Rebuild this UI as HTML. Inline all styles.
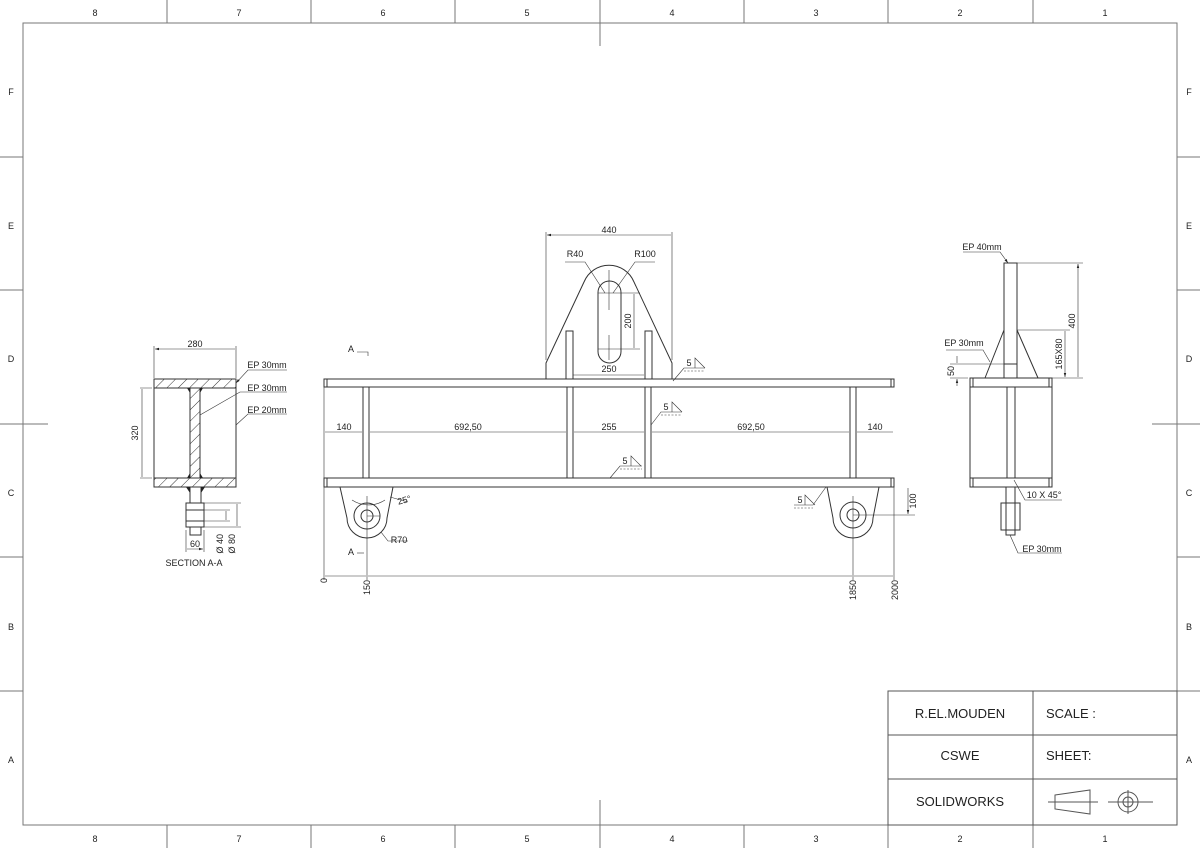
<!DOCTYPE html>
<html><head><meta charset="utf-8"><style>
html,body{margin:0;padding:0;background:#fff}
svg{display:block}
text{font-family:"Liberation Sans",sans-serif;fill:#222}
</style></head><body>
<svg width="1200" height="848" viewBox="0 0 1200 848" xmlns="http://www.w3.org/2000/svg">
<defs>
<marker id="a" viewBox="0 0 10 10" refX="10" refY="5" markerWidth="7" markerHeight="7" orient="auto-start-reverse"><path d="M0,2 L10,5 L0,8z" fill="#222"/></marker>
<pattern id="h" width="8" height="8" patternUnits="userSpaceOnUse" patternTransform="rotate(45)"><line x1="0" y1="0" x2="0" y2="8" stroke="#333" stroke-width="1"/></pattern>
</defs>
<g stroke="#777" stroke-width="1" fill="none">
<rect x="23" y="23" width="1154" height="802"/>
<path d="M167,0V23M311,0V23M455,0V23M744,0V23M888,0V23M1033,0V23M600,0V46
M167,825V848M311,825V848M455,825V848M744,825V848M888,825V848M1033,825V848M600,800V848
M0,157H23M0,290H23M0,557H23M0,691H23M0,424H48
M1177,157H1200M1177,290H1200M1177,557H1200M1177,691H1200M1152,424H1200"/>
</g>
<g font-size="9" text-anchor="middle">
<text x="95" y="16">8</text><text x="239" y="16">7</text><text x="383" y="16">6</text><text x="527" y="16">5</text><text x="672" y="16">4</text><text x="816" y="16">3</text><text x="960" y="16">2</text><text x="1105" y="16">1</text>
<text x="95" y="842">8</text><text x="239" y="842">7</text><text x="383" y="842">6</text><text x="527" y="842">5</text><text x="672" y="842">4</text><text x="816" y="842">3</text><text x="960" y="842">2</text><text x="1105" y="842">1</text>
<text x="11" y="95">F</text><text x="11" y="229">E</text><text x="11" y="362">D</text><text x="11" y="496">C</text><text x="11" y="630">B</text><text x="11" y="763">A</text>
<text x="1189" y="95">F</text><text x="1189" y="229">E</text><text x="1189" y="362">D</text><text x="1189" y="496">C</text><text x="1189" y="630">B</text><text x="1189" y="763">A</text>
</g>
<!-- title block -->
<g stroke="#555" fill="none"><rect x="888" y="691" width="289" height="134"/><path d="M888,735H1177M888,779H1177M1033,691V825"/>
<path d="M1048,802H1098M1055,795L1090,790V814L1055,809Z"/><circle cx="1128" cy="802" r="10"/><circle cx="1128" cy="802" r="5"/><path d="M1108,802H1153M1128,790V814"/></g>
<g font-size="13"><text x="960" y="718" text-anchor="middle">R.EL.MOUDEN</text><text x="1046" y="718">SCALE :</text>
<text x="960" y="760" text-anchor="middle">CSWE</text><text x="1046" y="760">SHEET:</text>
<text x="960" y="806" text-anchor="middle">SOLIDWORKS</text></g>

<!-- main view -->
<g stroke="#333" stroke-width="1" fill="none">
<rect x="324" y="379" width="570" height="8"/><rect x="324" y="478" width="570" height="9"/>
<path d="M327,379V387M891,379V387M327,478V487M891,478V487"/>
<rect x="363" y="387" width="6" height="91"/><rect x="567" y="387" width="6" height="91"/><rect x="645" y="387" width="6" height="91"/><rect x="850" y="387" width="6" height="91"/>
<path d="M546,379V363L584,282A27,27 0 0 1 634,282L672,363V379"/>
<rect x="598" y="281" width="23" height="82" rx="11.5"/>
<path d="M598,293H621M598,349H621" stroke-width="0.6"/>
<rect x="566" y="331" width="7" height="48" fill="#fff"/><rect x="645" y="331" width="7" height="48" fill="#fff"/>
<path d="M340,487L347,518A20,20 0 0 0 387,518L393,487"/>
<circle cx="367" cy="516" r="13"/><circle cx="367" cy="516" r="6"/>
<path d="M827,487L833,518A20,20 0 0 0 873,518L879,487"/>
<circle cx="853" cy="515" r="13"/><circle cx="853" cy="515" r="6"/>
</g>
<g stroke="#333" stroke-width="0.6" fill="none">
<path d="M609,270V310M609,335V360M367,496V580M853,496V580M367,516H380M853,515H915M324,387V580M894,487V580M546,232V360M672,232V360M621,293H640M621,349H640"/>
<path d="M547,235H671M573,375H644M634,294V348M325,432H362M370,432H566M574,432H644M652,432H849M857,432H893M325,576H366M368,576H852M854,576H893M908,488V514" marker-end="url(#a)" marker-start="url(#a)"/>
<path d="M565,262H585L605,293M655,262H635L613,293M352,500A30,30 0 0 0 385,500M390,497L408,502M381,532L388,541H408" />
<path d="M673,381L684,368H705M651,425L661,412H682M610,478L620,466H642M826,487L813,505H794"/>
<path d="M695,368V358L705,368M672,412V402L682,412M631,466V456L641,466M805,505V495L815,505"/>
<path d="M684,371H705M661,415H682M620,469H642M794,508H813" stroke-dasharray="2,1.5"/>
<path d="M357,352H368V356"/><path d="M357,553H364"/>
</g>
<g font-size="9" text-anchor="middle">
<text x="609" y="233">440</text><text x="575" y="257">R40</text><text x="645" y="257">R100</text>
<text x="609" y="372">250</text><text transform="translate(631,321) rotate(-90)">200</text>
<text x="344" y="430">140</text><text x="468" y="430">692,50</text><text x="609" y="430">255</text><text x="751" y="430">692,50</text><text x="875" y="430">140</text>
<text x="689" y="366">5</text><text x="666" y="410">5</text><text x="625" y="464">5</text><text x="800" y="503">5</text>
<text x="405" y="503" transform="rotate(-15,405,503)">25°</text><text x="399" y="543">R70</text>
<text x="351" y="352">A</text><text x="351" y="555">A</text>
<text transform="translate(916,501) rotate(-90)">100</text>
<text transform="translate(327,578) rotate(-90)" text-anchor="end">0</text>
<text transform="translate(370,580) rotate(-90)" text-anchor="end">150</text>
<text transform="translate(856,580) rotate(-90)" text-anchor="end">1850</text>
<text transform="translate(898,580) rotate(-90)" text-anchor="end">2000</text>
</g>

<!-- section A-A -->
<g stroke="#333" stroke-width="1">
<rect x="154" y="379" width="82" height="9" fill="url(#h)"/><rect x="154" y="478" width="82" height="9" fill="url(#h)"/>
<rect x="190" y="388" width="10" height="90" fill="url(#h)"/>
<rect x="154" y="388" width="82" height="90" fill="none"/>
<path d="M190,487V503M201,487V503M191,535H200" fill="none"/>
<rect x="186" y="503" width="18" height="24" fill="none"/><rect x="190" y="527" width="11" height="8" fill="none"/>
<path d="M186,510H204M186,521H204" fill="none"/>
<path d="M187,388l3,5v-5zM203,388l-3,5v-5zM187,478l3,-5v5zM203,478l-3,-5v5zM190,487l-4,0l4,6zM201,487l4,0l-4,6z" fill="#222" stroke="none"/>
</g>
<g stroke="#333" stroke-width="0.6" fill="none">
<path d="M154,346V378M236,346V378M140,388H152M140,478H152M204,510H230M204,521H230M204,503H241M204,527H241M186,530V552M204,530V552"/>
<path d="M155,349H235M142,389V477M226,511V520M237,504V526M187,549H203" marker-end="url(#a)" marker-start="url(#a)"/>
<path d="M236,383L248,370H287M200,415L240,392H287M236,425L248,414H287" marker-start="url(#a)"/>
</g>
<g font-size="9" text-anchor="middle">
<text x="195" y="347">280</text><text transform="translate(138,433) rotate(-90)">320</text>
<text x="267" y="368">EP 30mm</text><text x="267" y="391">EP 30mm</text><text x="267" y="413">EP 20mm</text>
<text x="195" y="547">60</text><text transform="translate(223,534) rotate(-90)" text-anchor="end">Ø 40</text><text transform="translate(235,534) rotate(-90)" text-anchor="end">Ø 80</text>
<text x="194" y="566">SECTION A-A</text>
</g>

<!-- right view -->
<g stroke="#333" stroke-width="1" fill="none">
<rect x="970" y="378" width="82" height="9"/><rect x="970" y="478" width="82" height="9"/>
<path d="M973,378V387M1049,378V387M973,478V487M1049,478V487M970,387V478M1052,387V478"/>
<rect x="1004" y="263" width="13" height="115"/>
<path d="M1007,387V478M1015,387V478M985,378L1004,330M1017,330L1038,378M1004,364H1017"/>
<rect x="1006" y="487" width="9" height="48"/><rect x="1001" y="503" width="19" height="27"/>
</g>
<g stroke="#333" stroke-width="0.6" fill="none">
<path d="M1017,263H1083M1017,330H1070M990,378H1083M950,364H1004M950,378H968"/>
<path d="M1078,264V377M1065,331V377" marker-end="url(#a)" marker-start="url(#a)"/>
<path d="M957,356V363M957,386V379" marker-end="url(#a)"/>
<path d="M1008,263L1000,252H963M990,362L983,350H946M1014,480L1025,500H1062M1010,535L1018,553H1062" marker-start="url(#a)"/>
</g>
<g font-size="9" text-anchor="middle">
<text x="982" y="250">EP 40mm</text><text x="964" y="346">EP 30mm</text>
<text transform="translate(1075,321) rotate(-90)">400</text><text transform="translate(1062,354) rotate(-90)">165X80</text>
<text transform="translate(954,371) rotate(-90)">50</text>
<text x="1044" y="498">10 X 45°</text><text x="1042" y="552">EP 30mm</text>
</g>
</svg>
</body></html>
